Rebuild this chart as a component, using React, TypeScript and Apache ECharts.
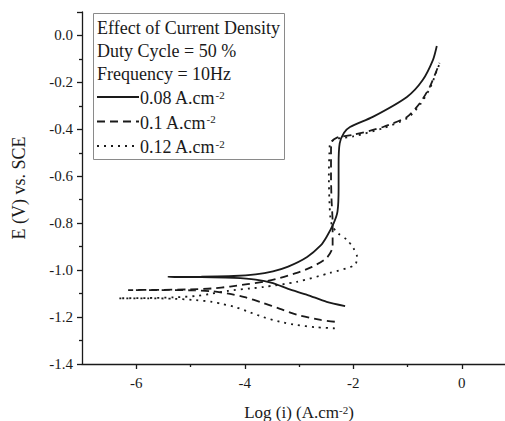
import React, { useEffect, useRef } from "react";
import * as echarts from "echarts";

// Tick positions
const xMajorTicks = [-6, -4, -2, 0];
const xMinorTicks = [-5, -3, -1];

// 0.08 A.cm-2 (solid)
const solidLogI = [-2.15, -2.49, -2.85, -3.2, -3.48, -3.8, -4.2, -4.8, -5.41, -4.8, -4.2, -3.8, -3.48, -3.2, -2.85, -2.6, -2.49, -2.36, -2.29, -2.27, -2.27, -2.25, -2.17, -2.06, -1.64, -1.01, -0.72, -0.53, -0.46];
const solidE = [-1.153, -1.135, -1.105, -1.08, -1.055, -1.04, -1.033, -1.03, -1.029, -1.028, -1.025, -1.018, -1.005, -0.985, -0.944, -0.895, -0.858, -0.8, -0.75, -0.65, -0.55, -0.46, -0.415, -0.39, -0.347, -0.262, -0.19, -0.104, -0.045];

// 0.1 A.cm-2 (dashed)
const dashLogI = [-2.34, -2.6, -3.04, -3.35, -3.66, -4.0, -4.3, -4.6, -5.0, -5.6, -6.15, -5.6, -5.0, -4.6, -4.27, -3.95, -3.66, -3.35, -3.04, -2.76, -2.49, -2.38, -2.38, -2.4, -2.41, -2.41, -2.4, -2.3, -2.01, -1.45, -1.01, -0.77, -0.59, -0.46, -0.41];
const dashE = [-1.22, -1.212, -1.19, -1.165, -1.14, -1.115, -1.1, -1.09, -1.086, -1.085, -1.085, -1.084, -1.082, -1.078, -1.07, -1.06, -1.05, -1.033, -1.012, -0.986, -0.948, -0.9, -0.8, -0.7, -0.6, -0.5, -0.455, -0.435, -0.424, -0.39, -0.347, -0.288, -0.219, -0.147, -0.117];

// 0.12 A.cm-2 (dotted)
const dotLogI = [-2.34, -2.7, -3.04, -3.35, -3.66, -3.9, -4.18, -4.4, -4.6, -4.9, -5.3, -5.8, -6.33, -5.8, -5.3, -4.9, -4.6, -4.3, -3.9, -3.66, -3.04, -2.43, -1.97, -1.93, -2.0, -2.12, -2.28, -2.38, -2.42, -2.44, -2.45, -2.44, -2.42, -2.3, -2.0, -1.45, -1.0, -0.76, -0.58, -0.46, -0.39];
const dotE = [-1.248, -1.243, -1.234, -1.22, -1.2, -1.18, -1.157, -1.145, -1.135, -1.128, -1.122, -1.12, -1.12, -1.119, -1.116, -1.11, -1.1, -1.088, -1.078, -1.072, -1.05, -1.012, -0.978, -0.944, -0.905, -0.87, -0.843, -0.815, -0.78, -0.7, -0.6, -0.5, -0.455, -0.44, -0.43, -0.395, -0.352, -0.292, -0.222, -0.15, -0.11];

const seriesNames = ["0.08 A.cm-2", "0.1 A.cm-2", "0.12 A.cm-2"];
const legendHeader = ["Effect of Current Density", "Duty Cycle = 50 %", "Frequency = 10Hz"];
const legendLabels = ["0.08 A.cm{sup|-2}", "0.1 A.cm{sup|-2}", "0.12 A.cm{sup|-2}"];

const zip = (a: number[], b: number[]) => a.map((v, i) => [v, b[i]]);

const FONT = "'Liberation Serif', 'Times New Roman', serif";
const INK = "#1a1a1a";

export default function App() {
  const ref = useRef<HTMLDivElement>(null);
  useEffect(() => {
    document.body.style.margin = "0";
    const chart = echarts.init(ref.current!, null, { renderer: "svg" });
    const gridPos = { left: 82, top: 12, right: -11, bottom: 57, outerBoundsMode: "none" };
    const dashStyles: any[] = ["solid", [8, 5], [2, 5]];
    const datasets = [zip(solidLogI, solidE), zip(dashLogI, dashE), zip(dotLogI, dotE)];
    const rich = { sup: { fontSize: 11, verticalAlign: "top", fontFamily: FONT, color: INK } };

    const legendGraphics: any[] = [
      {
        type: "rect",
        shape: { x: 93.5, y: 13.5, width: 191, height: 146 },
        style: { fill: "#fff", stroke: "#8a8a8a", lineWidth: 1 },
        z: 100,
      },
    ];
    legendHeader.forEach((t, i) => {
      legendGraphics.push({
        type: "text",
        x: 97,
        y: 28 + i * 23,
        z: 101,
        style: { text: t, fontFamily: FONT, fontSize: 18, fill: INK, verticalAlign: "middle" },
      });
    });
    legendLabels.forEach((t, i) => {
      const y = 97 + i * 24.5;
      legendGraphics.push({
        type: "line",
        z: 101,
        shape: { x1: 97, y1: y, x2: 139, y2: y },
        style: { stroke: INK, lineWidth: 1.8, lineDash: i === 0 ? null : dashStyles[i] },
      });
      legendGraphics.push({
        type: "text",
        x: 140,
        y: y + 1,
        z: 101,
        style: {
          text: t,
          fontFamily: FONT,
          fontSize: 18,
          fill: INK,
          verticalAlign: "middle",
          rich: { sup: { fontSize: 11, verticalAlign: "top", fontFamily: FONT, fill: INK } },
        },
      });
    });

    chart.setOption({
      animation: false,
      backgroundColor: "#fff",
      grid: [gridPos, gridPos],
      xAxis: [
        {
          type: "value",
          gridIndex: 0,
          min: -7,
          max: 1,
          name: "Log (i) (A.cm{sup|-2})",
          nameLocation: "middle",
          nameGap: 40,
          nameTextStyle: { fontFamily: FONT, fontSize: 17, color: INK, rich },
          axisLine: { onZero: false, lineStyle: { color: INK, width: 1.3 } },
          axisTick: { show: true, customValues: xMajorTicks, length: 5, lineStyle: { color: INK, width: 1.3 } },
          axisLabel: { customValues: xMajorTicks, fontFamily: FONT, fontSize: 15, color: INK, margin: 11 },
          splitLine: { show: false },
        },
        {
          type: "value",
          gridIndex: 1,
          min: -7,
          max: 1,
          axisLine: { show: false, onZero: false },
          axisTick: { show: true, customValues: xMinorTicks, length: 3, lineStyle: { color: INK, width: 1.3 } },
          axisLabel: { show: false },
          splitLine: { show: false },
        },
      ],
      yAxis: [
        {
          type: "value",
          gridIndex: 0,
          min: -1.4,
          max: 0.1,
          interval: 0.2,
          name: "E (V) vs. SCE",
          nameLocation: "middle",
          nameGap: 54,
          nameTextStyle: { fontFamily: FONT, fontSize: 18, color: INK },
          axisLine: { show: true, onZero: false, lineStyle: { color: INK, width: 1.3 } },
          axisTick: { show: true, length: 5, lineStyle: { color: INK, width: 1.3 } },
          minorTick: { show: true, splitNumber: 2, length: 3, lineStyle: { color: INK, width: 1.3 } },
          axisLabel: {
            fontFamily: FONT,
            fontSize: 15,
            color: INK,
            margin: 9,
            showMaxLabel: false,
            formatter: (v: number) => v.toFixed(1),
          },
          splitLine: { show: false },
        },
        { type: "value", gridIndex: 1, min: -1.4, max: 0.1, show: false, axisLine: { onZero: false } },
      ],
      series: datasets.map((d, i) => ({
        type: "line",
        name: seriesNames[i],
        xAxisIndex: 0,
        yAxisIndex: 0,
        data: d,
        showSymbol: false,
        smooth: 0.25,
        lineStyle: { color: INK, width: 1.8, type: dashStyles[i] },
      })),
      graphic: legendGraphics,
    });
    return () => chart.dispose();
  }, []);
  return <div ref={ref} style={{ width: 505, height: 421 }} />;
}
